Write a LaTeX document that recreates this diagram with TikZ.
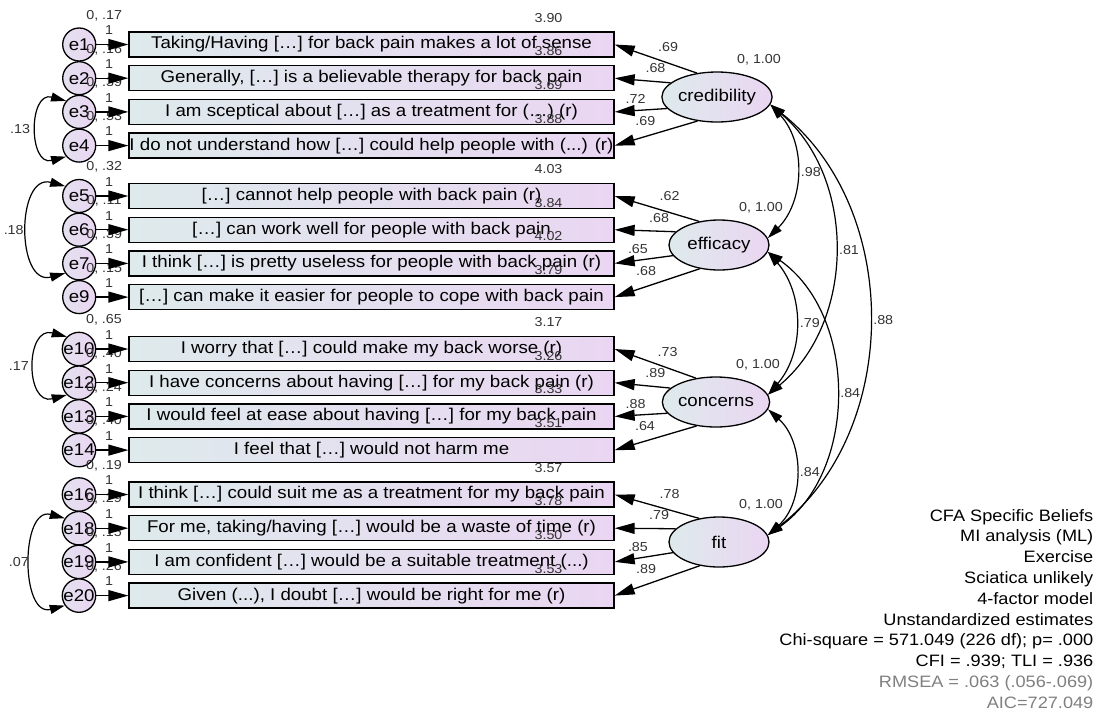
\documentclass[tikz,border=0pt]{standalone}
\usepackage{fontspec}
\setmainfont[FakeStretch=1.1]{Liberation Sans}
\usetikzlibrary{arrows.meta, shapes.geometric}
\usetikzlibrary{positioning}
\definecolor{boxleft}{RGB}{222,234,236}
\definecolor{boxright}{RGB}{234,214,242}

\begin{document}
\begin{tikzpicture}[
        x=1pt, y=1pt,
        node distance=7.4pt and 32pt,
        every node/.style={font=\fontsize{17}{20}\selectfont},
        num/.style={font=\fontsize{13}{15}\selectfont, text=black!80, inner sep=1pt},
        item/.style={draw, line width=1.3pt, left color=boxleft, right color=boxright, minimum width=485pt, minimum height=25pt, inner sep=0pt},
        err/.style={circle, draw, line width=1.3pt, left color=boxleft!50!boxright, right color=boxright, minimum size=33pt, inner sep=0pt},
        latent/.style={ellipse, draw, line width=1.3pt, left color=boxleft, right color=boxright, minimum width=100pt, minimum height=50pt, inner sep=0pt},
        icpt/.style={label={[num, xshift=177pt, label distance=8pt]above:#1}},
        evar/.style={label={[num, xshift=25pt, label distance=5pt]above:#1}},
        fvar/.style={label={[num, xshift=42pt, label distance=5pt]above:#1}},
        arrow/.style={-{Triangle[length=20pt, width=11pt]}, line width=1.3pt},
        cov/.style={{Triangle[length=15pt, width=9pt]}-{Triangle[length=15pt, width=9pt]}, line width=1.2pt},
        la/.style={num, pos=.35, above=10pt},
        lb/.style={num, pos=.27, above=7pt},
        lc/.style={num, pos=.6, above=5pt},
        ld/.style={num, pos=.63, above=9pt}
    ]
    \useasboundingbox (0,0) rectangle (1096,-713);

    % Items
    \node[item, icpt=3.90] (b1) at (371.5,-44.5) {Taking/Having […] for back pain makes a lot of sense};
    \node[item, icpt=3.86, below=of b1] (b2) {Generally, […] is a believable therapy for back pain};
    \node[item, icpt=3.69, below=of b2] (b3) {I am sceptical about […] as a treatment for (…) (r)};
    \node[item, icpt=3.88, below=of b3] (b4) {I do not understand how […] could help people with (...) (r)};
    \node[item, icpt=4.03] (b5) at (371.5,-196) {[…] cannot help people with back pain (r)};
    \node[item, icpt=3.84, below=of b5] (b6) {[…] can work well for people with back pain};
    \node[item, icpt=4.02, below=of b6] (b7) {I think […] is pretty useless for people with back pain (r)};
    \node[item, icpt=3.79, below=of b7] (b9) {[…] can make it easier for people to cope with back pain};
    \node[item, icpt=3.17] (b10) at (371.5,-349) {I worry that […] could make my back worse (r)};
    \node[item, icpt=3.26, below=of b10] (b12) {I have concerns about having […] for my back pain (r)};
    \node[item, icpt=3.33, below=of b12] (b13) {I would feel at ease about having […] for my back pain};
    \node[item, icpt=3.51, below=of b13] (b14) {I feel that […] would not harm me};
    \node[item, icpt=3.57] (b16) at (371.5,-494.5) {I think […] could suit me as a treatment for my back pain};
    \node[item, icpt=3.78, below=of b16] (b18) {For me, taking/having […] would be a waste of time (r)};
    \node[item, icpt=3.50, below=of b18] (b19) {I am confident […] would be a suitable treatment (...)};
    \node[item, icpt=3.53, below=of b19] (b20) {Given (...), I doubt […] would be right for me (r)};

    % Errors
    \node[err, evar={0, .17}, left=of b1] (e1) {e1};
    \node[err, evar={0, .16}, left=of b2] (e2) {e2};
    \node[err, evar={0, .39}, left=of b3] (e3) {e3};
    \node[err, evar={0, .53}, left=of b4] (e4) {e4};
    \node[err, evar={0, .32}, left=of b5] (e5) {e5};
    \node[err, evar={0, .11}, left=of b6] (e6) {e6};
    \node[err, evar={0, .39}, left=of b7] (e7) {e7};
    \node[err, evar={0, .15}, left=of b9] (e9) {e9};
    \node[err, evar={0, .65}, left=of b10] (e10) {e10};
    \node[err, evar={0, .40}, left=of b12] (e12) {e12};
    \node[err, evar={0, .24}, left=of b13] (e13) {e13};
    \node[err, evar={0, .40}, left=of b14] (e14) {e14};
    \node[err, evar={0, .19}, left=of b16] (e16) {e16};
    \node[err, evar={0, .29}, left=of b18] (e18) {e18};
    \node[err, evar={0, .15}, left=of b19] (e19) {e19};
    \node[err, evar={0, .26}, left=of b20] (e20) {e20};

    % Factors
    \node[latent, fvar={0, 1.00}] (cred) at (717,-97) {credibility};
    \node[latent, fvar={0, 1.00}] (eff) at (719,-245) {efficacy};
    \node[latent, fvar={0, 1.00}] (conc) at (716,-402) {concerns};
    \node[latent, fvar={0, 1.00}] (fit) at (719,-542) {fit};

    % Error arrows
    \draw[arrow] (e1) -- node[num, above=8pt, pos=.4]{1} (b1);
    \draw[arrow] (e2) -- node[num, above=8pt, pos=.4]{1} (b2);
    \draw[arrow] (e3) -- node[num, above=8pt, pos=.4]{1} (b3);
    \draw[arrow] (e4) -- node[num, above=8pt, pos=.4]{1} (b4);
    \draw[arrow] (e5) -- node[num, above=8pt, pos=.4]{1} (b5);
    \draw[arrow] (e6) -- node[num, above=8pt, pos=.4]{1} (b6);
    \draw[arrow] (e7) -- node[num, above=8pt, pos=.4]{1} (b7);
    \draw[arrow] (e9) -- node[num, above=8pt, pos=.4]{1} (b9);
    \draw[arrow] (e10) -- node[num, above=8pt, pos=.4]{1} (b10);
    \draw[arrow] (e12) -- node[num, above=8pt, pos=.4]{1} (b12);
    \draw[arrow] (e13) -- node[num, above=8pt, pos=.4]{1} (b13);
    \draw[arrow] (e14) -- node[num, above=8pt, pos=.4]{1} (b14);
    \draw[arrow] (e16) -- node[num, above=8pt, pos=.4]{1} (b16);
    \draw[arrow] (e18) -- node[num, above=8pt, pos=.4]{1} (b18);
    \draw[arrow] (e19) -- node[num, above=8pt, pos=.4]{1} (b19);
    \draw[arrow] (e20) -- node[num, above=8pt, pos=.4]{1} (b20);

    % Loadings
    \draw[arrow] (cred.130) -- node[la]{.69} (b1.east);
    \draw[arrow] (cred.163) -- node[lb]{.68} (b2.east);
    \draw[arrow] (cred.193) -- node[lc]{.72} (b3.east);
    \draw[arrow] (cred.231) -- node[ld]{.69} (b4.east);
    \draw[arrow] (eff.130) -- node[la]{.62} (b5.east);
    \draw[arrow] (eff.163) -- node[lb]{.68} (b6.east);
    \draw[arrow] (eff.193) -- node[lc]{.65} (b7.east);
    \draw[arrow] (eff.231) -- node[ld]{.68} (b9.east);
    \draw[arrow] (conc.130) -- node[la]{.73} (b10.east);
    \draw[arrow] (conc.163) -- node[lb]{.89} (b12.east);
    \draw[arrow] (conc.193) -- node[lc]{.88} (b13.east);
    \draw[arrow] (conc.231) -- node[ld]{.64} (b14.east);
    \draw[arrow] (fit.130) -- node[la]{.78} (b16.east);
    \draw[arrow] (fit.163) -- node[lb]{.79} (b18.east);
    \draw[arrow] (fit.193) -- node[lc]{.85} (b19.east);
    \draw[arrow] (fit.231) -- node[ld]{.89} (b20.east);

    % Covariances
    \draw[cov] (cred.-8) to[bend left=44] node[num, right=3pt]{.98} (eff.8);
    \draw[cov] (cred.-8) to[bend left=50] node[num, right=3pt]{.81} (conc.8);
    \draw[cov] (cred.-8) to[bend left=52] node[num, right=3pt]{.88} (fit.8);
    \draw[cov] (eff.-8) to[bend left=41] node[num, right=3pt]{.79} (conc.8);
    \draw[cov] (eff.-8) to[bend left=55] node[num, right=3pt]{.84} (fit.8);
    \draw[cov] (conc.-8) to[bend left=48] node[num, right=3pt]{.84} (fit.8);
    \draw[cov] (e3.140) to[out=165, in=195, looseness=1.8] node[num, left=6pt]{.13} (e4.220);
    \draw[cov] (e5.145) to[out=165, in=195, looseness=1.5] node[num, left=3pt]{.18} (e7.215);
    \draw[cov] (e10.135) to[out=165, in=195, looseness=1.9] node[num, left=5pt]{.17} (e12.225);
    \draw[cov] (e18.145) to[out=165, in=195, looseness=1.35] node[num, left=1pt]{.07} (e20.215);

    % Fit summary
    \node[anchor=north east, align=right, inner sep=0pt, font=\fontsize{16.5}{20.8}\selectfont] (info) at (1093.5,-509) {CFA Specific Beliefs\\ MI analysis (ML)\\ Exercise\\ Sciatica unlikely\\ 4-factor model\\ Unstandardized estimates\\ Chi-square = 571.049 (226 df); p= .000\\ CFI = .939; TLI = .936\\ \textcolor{black!50}{RMSEA = .063 (.056-.069)}\\ \textcolor{black!50}{AIC=727.049}};

\end{tikzpicture}
\end{document}
